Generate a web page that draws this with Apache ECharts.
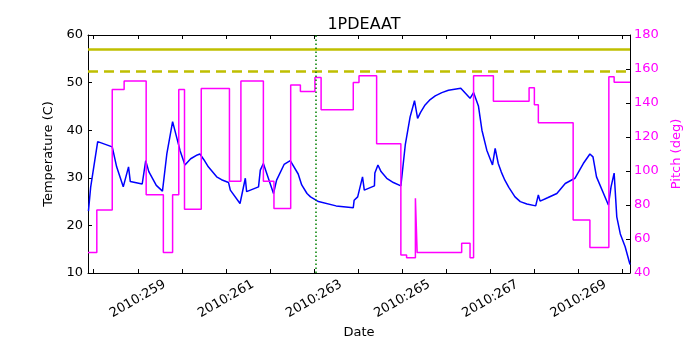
<!DOCTYPE html>
<html>
<head>
<meta charset="utf-8">
<script src="https://cdn.jsdelivr.net/npm/echarts@6/dist/echarts.min.js"></script>
<style>
  html, body { margin: 0; padding: 0; background: #fff; }
  #chart { width: 700px; height: 350px; }
</style>
</head>
<body>
<div id="chart"></div>
<script>
// day-of-year 2010
const tempDays = [257.88, 257.93, 257.99, 258.09, 258.42, 258.52, 258.67, 258.79, 258.83, 259.10,
  259.18, 259.25, 259.42, 259.56, 259.66, 259.79, 259.96, 260.07, 260.20, 260.35,
  260.41, 260.50, 260.60, 260.79, 260.90, 261.06, 261.10, 261.32, 261.44, 261.47,
  261.74, 261.78, 261.85, 262.08, 262.15, 262.32, 262.46, 262.64, 262.72, 262.84,
  262.92, 263.10, 263.50, 263.89, 263.91, 263.99, 264.10, 264.14, 264.37, 264.38,
  264.45, 264.52, 264.65, 264.80, 264.97, 265.07, 265.18, 265.28, 265.35, 265.42,
  265.52, 265.62, 265.75, 265.90, 266.05, 266.33, 266.54, 266.62, 266.73, 266.81,
  266.92, 267.05, 267.11, 267.18, 267.25, 267.33, 267.42, 267.56, 267.68, 267.83,
  268.03, 268.09, 268.13, 268.30, 268.51, 268.70, 268.92, 269.11, 269.26, 269.33,
  269.41, 269.68, 269.74, 269.81, 269.87, 269.95, 270.06, 270.17];
const tempValues = [23.0, 28.0, 31.6, 37.6, 36.5, 32.3, 28.1, 32.3, 29.2, 28.7,
  33.6, 31.3, 28.4, 27.2, 35.1, 41.8, 35.7, 32.7, 34.0, 34.8,
  35.0, 33.8, 32.3, 30.2, 29.6, 29.0, 27.4, 24.6, 29.9, 27.1,
  28.1, 31.6, 33.0, 26.7, 29.5, 32.8, 33.6, 30.8, 28.5, 26.7,
  26.0, 25.0, 24.1, 23.7, 25.3, 26.0, 30.2, 27.4, 28.3, 31.0,
  32.7, 31.3, 29.9, 29.0, 28.3, 36.9, 42.8, 46.2, 42.5, 43.8,
  45.3, 46.3, 47.2, 47.9, 48.4, 48.8, 46.7, 47.9, 45.1, 40.0,
  35.8, 32.7, 36.2, 33.0, 31.2, 29.5, 28.0, 26.0, 25.0, 24.5,
  24.1, 26.4, 25.1, 25.8, 26.7, 28.8, 29.9, 33.0, 35.0, 34.4,
  30.2, 24.3, 28.1, 31.0, 21.8, 18.2, 15.5, 11.8];

// pitch holds each value from its day until the next one
const pitchDays = [257.87, 258.07, 258.42, 258.69, 259.19, 259.58, 259.79, 259.93, 260.06, 260.44,
  261.08, 261.34, 261.85, 262.09, 262.47, 262.69, 263.02, 263.16, 263.89, 264.02,
  264.42, 264.97, 265.10, 265.30, 265.34, 266.35, 266.54, 266.62, 267.07, 267.88,
  268.00, 268.09, 268.88, 269.26, 269.69, 269.81, 270.17];
const pitchValues = [52, 77, 148, 153, 86, 52, 86, 148, 77.5, 148.6,
  94, 153, 94, 78, 150.6, 146.7, 155, 136, 152, 156,
  116, 50.6, 49, 84, 52, 57.5, 49, 156, 141, 149,
  139, 128.4, 71.2, 55, 155.5, 152.2, 152.2];

const tempLimitHigh = 57.0;
const tempLimitLow = 52.4;
const markerDay = 263.03;

const xMin = 257.87;
const xMax = 270.17;
const dayTicks = [258, 259, 260, 261, 262, 263, 264, 265, 266, 267, 268, 269, 270];
const dayLabels = [259, 261, 263, 265, 267, 269];

const font = "DejaVu Sans";
const zip = (xs, ys) => xs.map((x, i) => [x, ys[i]]);

const chart = echarts.init(document.getElementById("chart"), null, { renderer: "canvas" });

const xCommon = {
  type: "value",
  min: xMin,
  max: xMax,
  splitLine: { show: false },
  axisLine: { show: true, onZero: false, lineStyle: { color: "#000", width: 1 } },
  axisTick: { show: true, inside: true, length: 4, customValues: dayTicks, lineStyle: { color: "#000" } },
};

chart.setOption({
  animation: false,
  backgroundColor: "#fff",
  title: {
    text: "1PDEAAT",
    left: 359,
    textAlign: "center",
    top: 12,
    textStyle: { fontFamily: font, fontSize: 16, fontWeight: "normal", color: "#000" },
  },
  grid: { left: 88, right: 70, top: 35, bottom: 77 },
  xAxis: [
    Object.assign({}, xCommon, {
      position: "bottom",
      name: "Date",
      nameLocation: "middle",
      nameGap: 50,
      nameTextStyle: { fontFamily: font, fontSize: 13, color: "#000" },
      axisLabel: {
        customValues: dayLabels,
        rotate: 30,
        align: "center",
        verticalAlign: "middle",
        margin: 26,
        fontFamily: font,
        fontSize: 13,
        color: "#000",
        formatter: (v) => "2010:" + Math.round(v),
      },
    }),
    Object.assign({}, xCommon, {
      position: "top",
      axisLabel: { show: false },
    }),
  ],
  yAxis: [
    {
      type: "value",
      position: "left",
      min: 10,
      max: 60,
      interval: 10,
      name: "Temperature (C)",
      nameLocation: "middle",
      nameRotate: 90,
      nameGap: 32,
      nameTextStyle: { fontFamily: font, fontSize: 13, color: "#000" },
      splitLine: { show: false },
      axisLine: { show: true, lineStyle: { color: "#000" } },
      axisTick: { show: true, inside: true, length: 4, lineStyle: { color: "#000" } },
      axisLabel: { fontFamily: font, fontSize: 13, color: "#000", margin: 5 },
    },
    {
      type: "value",
      position: "right",
      min: 40,
      max: 180,
      interval: 20,
      name: "Pitch (deg)",
      nameLocation: "middle",
      nameRotate: 90,
      nameGap: 36,
      nameTextStyle: { fontFamily: font, fontSize: 13, color: "#ff00ff" },
      splitLine: { show: false },
      axisLine: { show: true, lineStyle: { color: "#000" } },
      axisTick: { show: true, inside: true, length: 4, lineStyle: { color: "#000" } },
      axisLabel: { fontFamily: font, fontSize: 13, color: "#ff00ff", margin: 4 },
    },
  ],
  series: [
    {
      name: "limits",
      type: "line",
      xAxisIndex: 0,
      yAxisIndex: 0,
      data: [],
      silent: true,
      z: 1,
      markLine: {
        symbol: "none",
        silent: true,
        animation: false,
        label: { show: false },
        data: [
          { yAxis: tempLimitHigh, lineStyle: { color: "#bfbf00", width: 2.5, type: "solid" } },
          { yAxis: tempLimitLow, lineStyle: { color: "#bfbf00", width: 2.5, type: [10, 6] } },
          { xAxis: markerDay, lineStyle: { color: "#008000", width: 1.5, type: [1.5, 2.5] } },
        ],
      },
    },
    {
      name: "Temperature",
      type: "line",
      xAxisIndex: 0,
      yAxisIndex: 0,
      data: zip(tempDays, tempValues),
      showSymbol: false,
      lineStyle: { color: "#0000ff", width: 1.5 },
      z: 2,
    },
    {
      name: "Pitch",
      type: "line",
      xAxisIndex: 0,
      yAxisIndex: 1,
      step: "end",
      data: zip(pitchDays, pitchValues),
      showSymbol: false,
      lineStyle: { color: "#ff00ff", width: 1.5 },
      z: 3,
    },
  ],
});
</script>
</body>
</html>
